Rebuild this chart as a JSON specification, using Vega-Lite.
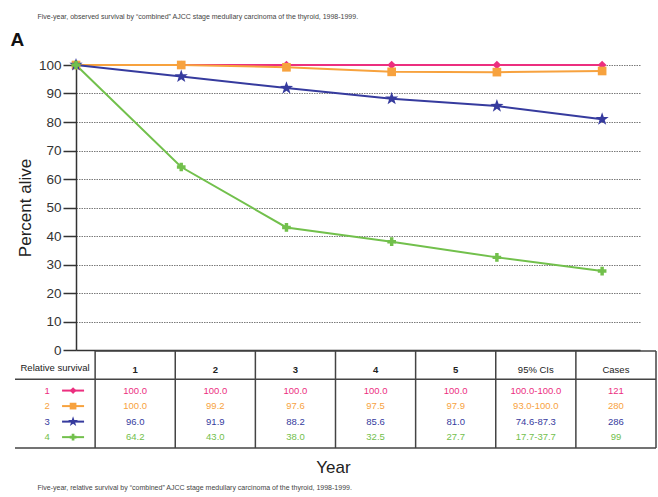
{
  "$schema": "https://vega.github.io/schema/vega-lite/v6.json",
  "width": 564,
  "height": 285,
  "autosize": {"type": "none"},
  "padding": {"left": 76, "top": 65, "right": 18, "bottom": 147},
  "config": {"view": {"stroke": null}, "font": "Liberation Sans"},
  "datasets": {
    "series": [
      {"stage": "1", "year": 0, "pct": 100}, {"stage": "1", "year": 1, "pct": 100}, {"stage": "1", "year": 2, "pct": 100},
      {"stage": "1", "year": 3, "pct": 100}, {"stage": "1", "year": 4, "pct": 100}, {"stage": "1", "year": 5, "pct": 100},
      {"stage": "2", "year": 0, "pct": 100}, {"stage": "2", "year": 1, "pct": 100}, {"stage": "2", "year": 2, "pct": 99.2},
      {"stage": "2", "year": 3, "pct": 97.6}, {"stage": "2", "year": 4, "pct": 97.5}, {"stage": "2", "year": 5, "pct": 97.9},
      {"stage": "3", "year": 0, "pct": 100}, {"stage": "3", "year": 1, "pct": 96.0}, {"stage": "3", "year": 2, "pct": 91.9},
      {"stage": "3", "year": 3, "pct": 88.2}, {"stage": "3", "year": 4, "pct": 85.6}, {"stage": "3", "year": 5, "pct": 81.0},
      {"stage": "4", "year": 0, "pct": 100}, {"stage": "4", "year": 1, "pct": 64.2}, {"stage": "4", "year": 2, "pct": 43.0},
      {"stage": "4", "year": 3, "pct": 38.0}, {"stage": "4", "year": 4, "pct": 32.5}, {"stage": "4", "year": 5, "pct": 27.7}
    ],
    "header": [
      {"col": 0, "text": "Relative survival"}, {"col": 1, "text": "1"}, {"col": 2, "text": "2"}, {"col": 3, "text": "3"},
      {"col": 4, "text": "4"}, {"col": 5, "text": "5"}, {"col": 6, "text": "95% CIs"}, {"col": 7, "text": "Cases"}
    ],
    "cells": [
      {"stage": "1", "row": 1, "col": 1, "text": "100.0"}, {"stage": "1", "row": 1, "col": 2, "text": "100.0"},
      {"stage": "1", "row": 1, "col": 3, "text": "100.0"}, {"stage": "1", "row": 1, "col": 4, "text": "100.0"},
      {"stage": "1", "row": 1, "col": 5, "text": "100.0"}, {"stage": "1", "row": 1, "col": 6, "text": "100.0-100.0"},
      {"stage": "1", "row": 1, "col": 7, "text": "121"},
      {"stage": "2", "row": 2, "col": 1, "text": "100.0"}, {"stage": "2", "row": 2, "col": 2, "text": "99.2"},
      {"stage": "2", "row": 2, "col": 3, "text": "97.6"}, {"stage": "2", "row": 2, "col": 4, "text": "97.5"},
      {"stage": "2", "row": 2, "col": 5, "text": "97.9"}, {"stage": "2", "row": 2, "col": 6, "text": "93.0-100.0"},
      {"stage": "2", "row": 2, "col": 7, "text": "280"},
      {"stage": "3", "row": 3, "col": 1, "text": "96.0"}, {"stage": "3", "row": 3, "col": 2, "text": "91.9"},
      {"stage": "3", "row": 3, "col": 3, "text": "88.2"}, {"stage": "3", "row": 3, "col": 4, "text": "85.6"},
      {"stage": "3", "row": 3, "col": 5, "text": "81.0"}, {"stage": "3", "row": 3, "col": 6, "text": "74.6-87.3"},
      {"stage": "3", "row": 3, "col": 7, "text": "286"},
      {"stage": "4", "row": 4, "col": 1, "text": "64.2"}, {"stage": "4", "row": 4, "col": 2, "text": "43.0"},
      {"stage": "4", "row": 4, "col": 3, "text": "38.0"}, {"stage": "4", "row": 4, "col": 4, "text": "32.5"},
      {"stage": "4", "row": 4, "col": 5, "text": "27.7"}, {"stage": "4", "row": 4, "col": 6, "text": "17.7-37.7"},
      {"stage": "4", "row": 4, "col": 7, "text": "99"}
    ],
    "colEdges": [
      {"edge": 0.5}, {"edge": 1.5}, {"edge": 2.5}, {"edge": 3.5}, {"edge": 4.5}, {"edge": 5.5}, {"edge": 6.5}, {"edge": 7.5}
    ]
  },
  "layer": [
    {
      "data": {"name": "series"},
      "mark": {"type": "line", "strokeWidth": 2},
      "encoding": {
        "x": {
          "field": "year", "type": "quantitative",
          "scale": {"domain": [0, 5.36], "nice": false, "zero": false},
          "axis": {
            "orient": "bottom", "labels": false, "ticks": false, "grid": false, "domain": true,
            "domainColor": "#333", "domainWidth": 1.5,
            "title": "Year", "titleFontSize": 17, "titleFontWeight": "normal", "titleColor": "#222",
            "titleX": 257, "titleY": 122, "titleBaseline": "alphabetic", "titleAlign": "center"
          }
        },
        "y": {
          "field": "pct", "type": "quantitative",
          "scale": {"domain": [0, 100], "nice": false},
          "axis": {
            "orient": "left", "values": [0, 10, 20, 30, 40, 50, 60, 70, 80, 90, 100],
            "tickSize": 13, "tickWidth": 1.5, "tickColor": "#333",
            "domainColor": "#333", "domainWidth": 1.5,
            "labelFontSize": 13.5, "labelColor": "#333", "labelPadding": 2,
            "grid": true, "gridColor": "#7a7a7a", "gridDash": [1.5, 1], "gridWidth": 1.2,
            "title": "Percent alive", "titleFontSize": 17, "titleFontWeight": "normal", "titleColor": "#222", "titlePadding": 4
          }
        },
        "color": {
          "field": "stage", "type": "nominal",
          "scale": {"domain": ["1", "2", "3", "4"], "range": ["#ec2f7f", "#f7a23e", "#363b9e", "#72c04c"]},
          "legend": null
        }
      }
    },
    {
      "data": {"name": "series"},
      "mark": {"type": "point", "filled": true, "opacity": 1, "size": 75},
      "encoding": {
        "x": {
          "field": "year", "type": "quantitative",
          "scale": {"domain": [0, 5.36], "nice": false, "zero": false},
          "axis": {
            "orient": "top", "labels": false, "ticks": false, "grid": false, "domain": false,
            "title": "Five-year, observed survival by \u201ccombined\u201d AJCC stage medullary carcinoma of the thyroid, 1998-1999.",
            "titleFontSize": 7, "titleFontWeight": "normal", "titleColor": "#444",
            "titleX": -39, "titleY": -47, "titleAlign": "left", "titleBaseline": "alphabetic"
          }
        },
        "y": {"field": "pct", "type": "quantitative", "scale": {"domain": [0, 100], "nice": false}, "axis": null},
        "color": {"field": "stage", "type": "nominal", "legend": null},
        "shape": {
          "field": "stage", "type": "nominal",
          "scale": {
            "domain": ["1", "2", "3", "4"],
            "range": ["diamond", "square", "M0,-1.6L0.376,-0.518L1.522,-0.494L0.608,0.198L0.941,1.294L0,0.64L-0.941,1.294L-0.608,0.198L-1.522,-0.494L-0.376,-0.518Z", "cross"]
          },
          "legend": null
        }
      }
    },
    {
      "data": {"name": "colEdges"},
      "mark": {"type": "rule", "strokeWidth": 1.5, "color": "#444"},
      "encoding": {
        "x": {
          "field": "edge", "type": "quantitative",
          "scale": {"domain": [-0.5, 7.5], "range": [-61, 580], "nice": false, "zero": false},
          "axis": {
            "orient": "bottom", "labels": false, "ticks": false, "grid": false, "domain": false,
            "title": "Five-year, relative survival by \u201ccombined\u201d AJCC stage medullary carcinoma of the thyroid, 1998-1999.",
            "titleFontSize": 7, "titleFontWeight": "normal", "titleColor": "#444",
            "titleX": -39, "titleY": 139, "titleAlign": "left", "titleBaseline": "alphabetic"
          }
        },
        "y": {
          "datum": -1.55, "type": "quantitative",
          "scale": {"domain": [-1.55, 4.7], "range": [286, 383], "nice": false, "zero": false},
          "axis": {
            "orient": "left", "labels": false, "ticks": false, "grid": false, "domain": false,
            "title": "A", "titleAngle": 0, "titleFontSize": 19, "titleFontWeight": "bold", "titleColor": "#111",
            "titleX": -66, "titleY": -20, "titleAlign": "left", "titleBaseline": "alphabetic"
          }
        },
        "y2": {"datum": 4.7}
      }
    },
    {
      "data": {"values": [{}]},
      "mark": {"type": "rule", "strokeWidth": 1.5, "color": "#444"},
      "encoding": {
        "x": {"datum": -0.5, "type": "quantitative", "scale": {"domain": [-0.5, 7.5], "range": [-61, 580], "nice": false, "zero": false}, "axis": null},
        "x2": {"datum": 7.5},
        "y": {"datum": 0.27, "type": "quantitative", "scale": {"domain": [-1.55, 4.7], "range": [286, 383], "nice": false, "zero": false}, "axis": null}
      }
    },
    {
      "data": {"values": [{}]},
      "mark": {"type": "rule", "strokeWidth": 1.5, "color": "#444"},
      "encoding": {
        "x": {"datum": -0.5, "type": "quantitative", "scale": {"domain": [-0.5, 7.5], "range": [-61, 580], "nice": false, "zero": false}, "axis": null},
        "x2": {"datum": 7.5},
        "y": {"datum": 4.7, "type": "quantitative", "scale": {"domain": [-1.55, 4.7], "range": [286, 383], "nice": false, "zero": false}, "axis": null}
      }
    },
    {
      "data": {"values": [{}]},
      "mark": {"type": "rule", "strokeWidth": 1.5, "color": "#444"},
      "encoding": {
        "x": {"datum": 0.5, "type": "quantitative", "scale": {"domain": [-0.5, 7.5], "range": [-61, 580], "nice": false, "zero": false}, "axis": null},
        "x2": {"datum": 7.5},
        "y": {"datum": -1.55, "type": "quantitative", "scale": {"domain": [-1.55, 4.7], "range": [286, 383], "nice": false, "zero": false}, "axis": null}
      }
    },
    {
      "data": {"name": "header"},
      "transform": [{"filter": "datum.col >= 1 && datum.col <= 5"}],
      "mark": {"type": "text", "fontSize": 9.5, "fontWeight": "bold", "color": "#222", "baseline": "middle"},
      "encoding": {
        "x": {"field": "col", "type": "quantitative", "scale": {"domain": [-0.5, 7.5], "range": [-61, 580], "nice": false, "zero": false}, "axis": null},
        "y": {"datum": -0.3, "type": "quantitative", "scale": {"domain": [-1.55, 4.7], "range": [286, 383], "nice": false, "zero": false}, "axis": null},
        "text": {"field": "text"}
      }
    },
    {
      "data": {"name": "header"},
      "transform": [{"filter": "datum.col >= 6"}],
      "mark": {"type": "text", "fontSize": 9.5, "color": "#222", "baseline": "middle"},
      "encoding": {
        "x": {"field": "col", "type": "quantitative", "scale": {"domain": [-0.5, 7.5], "range": [-61, 580], "nice": false, "zero": false}, "axis": null},
        "y": {"datum": -0.3, "type": "quantitative", "scale": {"domain": [-1.55, 4.7], "range": [286, 383], "nice": false, "zero": false}, "axis": null},
        "text": {"field": "text"}
      }
    },
    {
      "data": {"name": "header"},
      "transform": [{"filter": "datum.col == 0"}],
      "mark": {"type": "text", "fontSize": 9.5, "color": "#222", "baseline": "middle"},
      "encoding": {
        "x": {"field": "col", "type": "quantitative", "scale": {"domain": [-0.5, 7.5], "range": [-61, 580], "nice": false, "zero": false}, "axis": null},
        "y": {"datum": -0.45, "type": "quantitative", "scale": {"domain": [-1.55, 4.7], "range": [286, 383], "nice": false, "zero": false}, "axis": null},
        "text": {"field": "text"}
      }
    },
    {
      "data": {"name": "cells"},
      "mark": {"type": "text", "fontSize": 9.5, "baseline": "middle"},
      "encoding": {
        "x": {"field": "col", "type": "quantitative", "scale": {"domain": [-0.5, 7.5], "range": [-61, 580], "nice": false, "zero": false}, "axis": null},
        "y": {"field": "row", "type": "quantitative", "scale": {"domain": [-1.55, 4.7], "range": [286, 383], "nice": false, "zero": false}, "axis": null},
        "text": {"field": "text"},
        "color": {"field": "stage", "type": "nominal", "legend": null}
      }
    },
    {
      "data": {"name": "cells"},
      "transform": [{"filter": "datum.col == 1"}],
      "mark": {"type": "text", "fontSize": 9.5, "baseline": "middle", "dx": -8},
      "encoding": {
        "x": {"datum": 0, "type": "quantitative", "scale": {"domain": [-0.5, 7.5], "range": [-61, 580], "nice": false, "zero": false}, "axis": null},
        "y": {"field": "row", "type": "quantitative", "scale": {"domain": [-1.55, 4.7], "range": [286, 383], "nice": false, "zero": false}, "axis": null},
        "text": {"field": "stage"},
        "color": {"field": "stage", "type": "nominal", "legend": null}
      }
    },
    {
      "data": {"name": "cells"},
      "transform": [{"filter": "datum.col == 1"}],
      "mark": {"type": "point", "shape": "M-1,0L1,0", "size": 484, "strokeWidth": 2, "filled": false, "opacity": 1, "xOffset": 18},
      "encoding": {
        "x": {"datum": 0, "type": "quantitative", "scale": {"domain": [-0.5, 7.5], "range": [-61, 580], "nice": false, "zero": false}, "axis": null},
        "y": {"field": "row", "type": "quantitative", "scale": {"domain": [-1.55, 4.7], "range": [286, 383], "nice": false, "zero": false}, "axis": null},
        "color": {"field": "stage", "type": "nominal", "legend": null}
      }
    },
    {
      "data": {"name": "cells"},
      "transform": [{"filter": "datum.col == 1"}],
      "mark": {"type": "point", "size": 45, "filled": true, "opacity": 1, "xOffset": 18},
      "encoding": {
        "x": {"datum": 0, "type": "quantitative", "scale": {"domain": [-0.5, 7.5], "range": [-61, 580], "nice": false, "zero": false}, "axis": null},
        "y": {"field": "row", "type": "quantitative", "scale": {"domain": [-1.55, 4.7], "range": [286, 383], "nice": false, "zero": false}, "axis": null},
        "color": {"field": "stage", "type": "nominal", "legend": null},
        "shape": {"field": "stage", "type": "nominal", "legend": null}
      }
    }
  ],
  "resolve": {
    "scale": {"x": "independent", "y": "independent"},
    "axis": {"x": "independent", "y": "independent"}
  }
}
